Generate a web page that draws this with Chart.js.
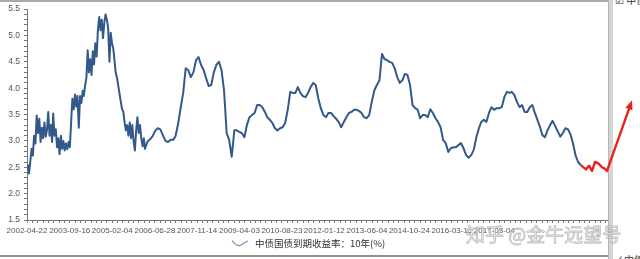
<!DOCTYPE html>
<html>
<head>
<meta charset="utf-8">
<script src="https://cdn.jsdelivr.net/npm/chart.js@4.4.1/dist/chart.umd.min.js"></script>
<style>
  html, body { margin: 0; padding: 0; background: #fff; overflow: hidden; }
  #wrap { position: relative; width: 640px; height: 259px; overflow: hidden; }
  .frame { position: absolute; }
  #topLine { left: 0; top: 0; width: 608px; height: 2px; background: #a9a9a9; }
  #bottomLine { left: 0; top: 255px; width: 608px; height: 2px; background: #8f8f8f; }
  #sideBar { left: 608px; top: 0; width: 5px; height: 259px; background: #d5d5d5; border-left: 1px solid #b4b4b4; box-sizing: border-box; }
  .side { position: absolute; left: 615px; font: 10px "Noto Sans CJK SC", sans-serif; color: #333; white-space: nowrap; }
  #sideTop { top: -8px; }
  #sideBottom { top: 252px; }
  canvas { position: absolute; left: 0; top: 0; }
</style>
</head>
<body>
<div id="wrap">
  <div class="frame" id="topLine"></div>
  <div class="frame" id="bottomLine"></div>
  <div class="frame" id="sideBar"></div>
  <div class="side" id="sideTop">☑ 中债国债到期收益率</div>
  <div class="side" id="sideBottom">✓ 中债</div>
  <canvas id="chart" width="640" height="259"></canvas>
</div>
<script>
/* global Chart */

// 2002-05 .. 2006-03, twice a month (noisy stretch)
const earlyDates = [
  '2002-05-01','2002-05-16','2002-06-01','2002-06-16','2002-07-01','2002-07-16','2002-08-01','2002-08-16',
  '2002-09-01','2002-09-16','2002-10-01','2002-10-16','2002-11-01','2002-11-16','2002-12-01','2002-12-16',
  '2003-01-01','2003-01-16','2003-02-01','2003-02-16','2003-03-01','2003-03-16','2003-04-01','2003-04-16',
  '2003-05-01','2003-05-16','2003-06-01','2003-06-16','2003-07-01','2003-07-16','2003-08-01','2003-08-16',
  '2003-09-01','2003-09-16','2003-10-01','2003-10-16','2003-11-01','2003-11-16','2003-12-01','2003-12-16',
  '2004-01-01','2004-01-16','2004-02-01','2004-02-16','2004-03-01','2004-03-16','2004-04-01','2004-04-16',
  '2004-05-01','2004-05-16','2004-06-01','2004-06-16','2004-07-01','2004-07-16','2004-08-01','2004-08-16',
  '2004-09-01','2004-09-16','2004-10-01','2004-10-16','2004-11-01','2004-11-16','2004-12-01','2004-12-16',
  '2005-01-01','2005-01-16','2005-02-01','2005-02-16','2005-03-01','2005-03-16','2005-04-01','2005-04-16',
  '2005-05-01','2005-05-16','2005-06-01','2005-06-16','2005-07-01','2005-07-16','2005-08-01','2005-08-16',
  '2005-09-01','2005-09-16','2005-10-01','2005-10-16','2005-11-01','2005-11-16','2005-12-01','2005-12-16',
  '2006-01-01','2006-01-16','2006-02-01','2006-02-16','2006-03-01','2006-03-16'
];
const earlyYield = [
  2.55, 2.38, 2.62, 2.85, 2.72, 3.10, 2.95, 3.48, 3.15, 3.42, 2.98, 3.25, 3.05, 3.35, 3.08, 3.20,
  3.55, 3.10, 3.30, 2.98, 3.52, 3.10, 3.22, 2.88, 3.05, 2.75, 3.10, 2.85, 3.00, 2.82, 2.95, 2.84,
  2.98, 2.88, 3.35, 3.80, 3.60, 3.88, 3.65, 3.85,
  3.25, 3.85, 3.72, 3.95, 3.85, 4.05, 4.20, 4.72, 4.30, 4.55, 4.25, 4.70, 4.45, 4.85, 4.60, 5.10,
  5.35, 5.10, 5.30, 4.95, 5.25, 5.40, 5.30, 5.15,
  4.50, 5.05, 4.85, 4.75, 4.55, 4.30, 4.20, 4.05, 3.90, 3.75, 3.60, 3.55, 3.35, 3.20, 3.30, 3.10,
  3.35, 3.05, 3.30, 3.00, 2.82, 3.20, 3.45, 3.15,
  3.30, 3.05, 2.90, 3.05, 2.85, 2.92
];

// 2006-04 .. 2020-06, monthly
const lateMonths = [
  '2006-04','2006-05','2006-06','2006-07','2006-08','2006-09','2006-10','2006-11','2006-12',
  '2007-01','2007-02','2007-03','2007-04','2007-05','2007-06','2007-07','2007-08','2007-09','2007-10','2007-11','2007-12',
  '2008-01','2008-02','2008-03','2008-04','2008-05','2008-06','2008-07','2008-08','2008-09','2008-10','2008-11','2008-12',
  '2009-01','2009-02','2009-03','2009-04','2009-05','2009-06','2009-07','2009-08','2009-09','2009-10','2009-11','2009-12',
  '2010-01','2010-02','2010-03','2010-04','2010-05','2010-06','2010-07','2010-08','2010-09','2010-10','2010-11','2010-12',
  '2011-01','2011-02','2011-03','2011-04','2011-05','2011-06','2011-07','2011-08','2011-09','2011-10','2011-11','2011-12',
  '2012-01','2012-02','2012-03','2012-04','2012-05','2012-06','2012-07','2012-08','2012-09','2012-10','2012-11','2012-12',
  '2013-01','2013-02','2013-03','2013-04','2013-05','2013-06','2013-07','2013-08','2013-09','2013-10','2013-11','2013-12',
  '2014-01','2014-02','2014-03','2014-04','2014-05','2014-06','2014-07','2014-08','2014-09','2014-10','2014-11','2014-12',
  '2015-01','2015-02','2015-03','2015-04','2015-05','2015-06','2015-07','2015-08','2015-09','2015-10','2015-11','2015-12',
  '2016-01','2016-02','2016-03','2016-04','2016-05','2016-06','2016-07','2016-08','2016-09','2016-10','2016-11','2016-12',
  '2017-01','2017-02','2017-03','2017-04','2017-05','2017-06','2017-07','2017-08','2017-09','2017-10','2017-11','2017-12',
  '2018-01','2018-02','2018-03','2018-04','2018-05','2018-06','2018-07','2018-08','2018-09','2018-10','2018-11','2018-12',
  '2019-01','2019-02','2019-03','2019-04','2019-05','2019-06','2019-07','2019-08','2019-09','2019-10','2019-11','2019-12',
  '2020-01','2020-02','2020-03','2020-04','2020-05','2020-06'
];
const lateYield = [
  2.99, 3.03, 3.09, 3.19, 3.24, 3.22, 3.11, 3.00, 2.98,
  3.02, 3.02, 3.09, 3.32, 3.62, 3.91, 4.38, 4.34, 4.21, 4.30, 4.53, 4.59,
  4.44, 4.34, 4.19, 4.04, 4.06, 4.30, 4.44, 4.50, 4.34, 3.96, 3.15, 3.02,
  2.70, 3.20, 3.20, 3.17, 3.15, 3.07, 3.30, 3.45, 3.49, 3.53, 3.68, 3.68,
  3.64, 3.55, 3.45, 3.40, 3.34, 3.24, 3.20, 3.24, 3.26, 3.34, 3.59, 3.93,
  3.91, 3.91, 4.02, 3.91, 3.85, 3.83, 3.91, 4.02, 4.10, 4.06, 3.81, 3.62,
  3.49, 3.45, 3.53, 3.53, 3.47, 3.42, 3.36, 3.26, 3.36, 3.45, 3.53, 3.55,
  3.59, 3.59, 3.57, 3.53, 3.45, 3.43, 3.49, 3.74, 3.96, 4.06, 4.15, 4.65,
  4.55, 4.53, 4.50, 4.48, 4.38, 4.21, 4.10, 4.15, 4.27, 4.25, 4.06, 3.68,
  3.62, 3.59, 3.43, 3.49, 3.49, 3.45, 3.60, 3.53, 3.43, 3.36, 3.26, 3.02,
  2.96, 2.79, 2.86, 2.88, 2.88, 2.92, 2.96, 2.86, 2.73, 2.68, 2.73, 2.83,
  3.07, 3.24, 3.36, 3.40, 3.36, 3.53, 3.64, 3.59, 3.62, 3.62, 3.64, 3.83,
  3.93, 3.91, 3.93, 3.87, 3.74, 3.64, 3.68, 3.55, 3.55, 3.64, 3.68, 3.53,
  3.40, 3.26, 3.11, 3.07, 3.20, 3.30, 3.38, 3.28, 3.18, 3.08, 3.15, 3.24,
  3.22, 3.12, 2.95, 2.72, 2.60, 2.54
];

// red hand-drawn continuation and arrow
const redDates = ['2020-06-01','2020-08-03','2020-09-08','2020-10-14','2020-11-19','2020-12-25','2021-02-11','2021-03-19','2021-04-11'];
const redValues = [2.54, 2.46, 2.53, 2.43, 2.60, 2.58, 2.50, 2.47, 2.43];
const arrowTip = ['2022-02-04', 3.77];

const xTickLabels = ['2002-04-22','2003-09-16','2005-02-04','2006-06-28','2007-11-14','2009-04-03',
  '2010-08-23','2012-01-12','2013-06-04','2014-10-24','2016-03-15','2017-08-04'];
const yTickLabels = ['1.5','2.0','2.5','3.0','3.5','4.0','4.5','5.0','5.5'];
const xStart = '2002-04-22';
const xEnd = '2021-04-11';

const SERIES_NAME = '中债国债到期收益率：10年(%)';
const WATERMARK = '知乎 @金牛远望号';
const BLUE = '#33598a';
const RED = '#e8231c';

// days since epoch
const toDay = (s) => {
  const [yy, mm, dd] = s.split('-').map(Number);
  return Date.UTC(yy, mm - 1, dd || 1) / 864e5;
};

const bluePoints = earlyDates.map((d, i) => ({ x: toDay(d), y: earlyYield[i] }))
  .concat(lateMonths.map((d, i) => ({ x: toDay(d), y: lateYield[i] })));
const redPoints = redDates.map((d, i) => ({ x: toDay(d), y: redValues[i] }));

// ticks: labelled majors plus 7 minor marks in between
const xLabelAt = new Map(xTickLabels.map(l => [toDay(l), l]));
const xMajors = xTickLabels.map(toDay);
const xTicks = [];
for (let i = 0; i < xMajors.length - 1; i++) {
  for (let k = 0; k < 8; k++) xTicks.push(xMajors[i] + k * (xMajors[i + 1] - xMajors[i]) / 8);
}
const xStep = (xMajors[xMajors.length - 1] - xMajors[0]) / (xMajors.length - 1) / 8;
for (let v = xMajors[xMajors.length - 1]; v <= toDay(xEnd); v += xStep) xTicks.push(v);

const yLabelAt = new Map(yTickLabels.map(l => [parseFloat(l), l]));
const yMajors = yTickLabels.map(parseFloat);
const yTicks = [];
for (let i = 0; i < yMajors.length - 1; i++) {
  for (let k = 0; k < 5; k++) yTicks.push(k === 0 ? yMajors[i] : yMajors[i] + k * (yMajors[i + 1] - yMajors[i]) / 5);
}
yTicks.push(yMajors[yMajors.length - 1]);

// arrow, legend and watermark
const overlay = {
  id: 'overlay',
  afterDatasetsDraw(chart) {
    const { ctx, scales: { x, y } } = chart;
    const n = redDates.length - 1;
    const x0 = x.getPixelForValue(toDay(redDates[n])), y0 = y.getPixelForValue(redValues[n]);
    const x1 = x.getPixelForValue(toDay(arrowTip[0])), y1 = y.getPixelForValue(arrowTip[1]);
    const a = Math.atan2(y1 - y0, x1 - x0);
    ctx.save();
    ctx.strokeStyle = RED;
    ctx.fillStyle = RED;
    ctx.lineWidth = 2.4;
    ctx.lineCap = 'round';
    ctx.beginPath();
    ctx.moveTo(x0, y0);
    ctx.lineTo(x1 - 5 * Math.cos(a), y1 - 5 * Math.sin(a));
    ctx.stroke();
    ctx.beginPath();
    ctx.moveTo(x1, y1);
    ctx.lineTo(x1 - 10 * Math.cos(a - 0.38), y1 - 10 * Math.sin(a - 0.38));
    ctx.lineTo(x1 - 10 * Math.cos(a + 0.38), y1 - 10 * Math.sin(a + 0.38));
    ctx.closePath();
    ctx.fill();
    ctx.restore();
  },
  afterDraw(chart) {
    const { ctx } = chart;
    ctx.save();
    // legend
    ctx.strokeStyle = '#6f8db5';
    ctx.lineWidth = 1.2;
    ctx.beginPath();
    ctx.moveTo(232, 240.5);
    ctx.quadraticCurveTo(237, 247.5, 241, 245);
    ctx.quadraticCurveTo(244, 242.5, 248, 241);
    ctx.stroke();
    ctx.fillStyle = '#333';
    ctx.font = '9.5px "Noto Sans CJK SC", sans-serif';
    ctx.textBaseline = 'middle';
    ctx.fillText(SERIES_NAME, 255, 243);
    // watermark
    ctx.font = '19px "Noto Sans CJK SC", sans-serif';
    ctx.lineWidth = 0.8;
    ctx.strokeStyle = 'rgba(150,150,150,0.6)';
    ctx.fillStyle = 'rgba(242,242,242,0.9)';
    ctx.fillText(WATERMARK, 466, 235);
    ctx.strokeText(WATERMARK, 466, 235);
    ctx.restore();
  }
};

Chart.defaults.font.family = '"Liberation Sans", Arial, sans-serif';

new Chart(document.getElementById('chart'), {
  type: 'line',
  data: {
    datasets: [
      { data: bluePoints, borderColor: BLUE, borderWidth: 2, pointRadius: 0, tension: 0, borderJoinStyle: 'round', order: 1 },
      { data: redPoints, borderColor: RED, borderWidth: 2.4, pointRadius: 0, tension: 0, borderJoinStyle: 'round', order: 0 }
    ]
  },
  options: {
    responsive: false,
    animation: false,
    layout: { padding: { left: 0, top: 9, right: 33, bottom: 0 } },
    plugins: { legend: { display: false }, tooltip: { enabled: false } },
    scales: {
      x: {
        type: 'linear',
        min: toDay(xStart),
        max: toDay(xEnd),
        afterBuildTicks: (s) => { s.ticks = xTicks.map(v => ({ value: v })); },
        afterFit: (s) => { s.height = 39; },
        ticks: {
          autoSkip: false, maxRotation: 0, minRotation: 0, padding: 3,
          color: '#555', font: { size: 8 },
          callback: (v) => xLabelAt.get(v) || ''
        },
        grid: { drawOnChartArea: false, tickLength: 3, color: '#777' },
        border: { color: '#777' }
      },
      y: {
        min: 1.5,
        max: 5.5,
        afterBuildTicks: (s) => { s.ticks = yTicks.map(v => ({ value: v })); },
        afterFit: (s) => { s.width = 27; },
        ticks: {
          autoSkip: false, padding: 4,
          color: '#555', font: { size: 8.5 },
          callback: (v) => yLabelAt.get(v) || ''
        },
        grid: { drawOnChartArea: false, tickLength: 3, color: '#777' },
        border: { color: '#777' }
      }
    }
  },
  plugins: [overlay]
});
</script>
</body>
</html>
